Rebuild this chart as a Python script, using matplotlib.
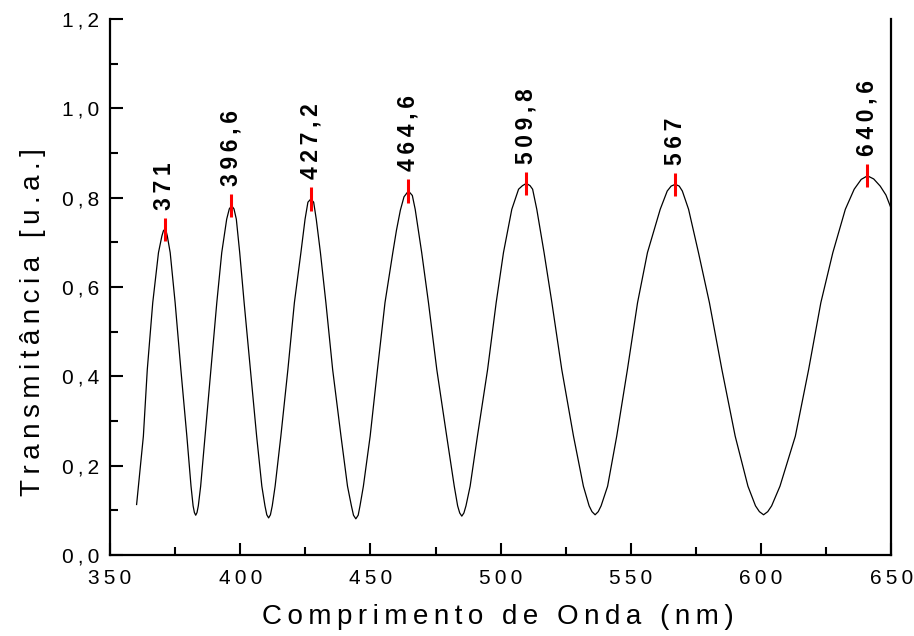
import matplotlib
matplotlib.use("Agg")
import matplotlib.pyplot as plt
from matplotlib.ticker import MultipleLocator, FuncFormatter

# ------------------------------------------------------------
# Data (wavelength in nm, transmittance in a.u.)
# ------------------------------------------------------------
wavelength = [
    360.2, 362.8, 364.3, 366.4, 368.6, 369.9, 370.5, 371.0, 371.5, 372.0,
    373.1, 375.0, 377.2, 379.5, 381.1, 381.9, 382.4, 382.9, 383.4, 383.9,
    384.8, 386.5, 388.8, 391.0, 392.9, 394.8, 395.8, 396.7, 397.6, 398.5,
    399.8, 401.5, 403.9, 406.3, 408.3, 409.5, 410.2, 410.9, 411.6, 412.3,
    413.4, 415.6, 418.3, 420.8, 423.3, 424.9, 426.0, 427.1, 428.2, 429.2,
    430.8, 432.9, 435.5, 438.7, 441.2, 442.7, 443.5, 444.4, 445.3, 446.0,
    447.3, 449.9, 452.7, 455.6, 458.6, 460.0, 461.5, 462.9, 464.6, 466.1,
    467.2, 469.7, 472.3, 475.5, 479.3, 482.2, 483.5, 484.3, 485.1, 485.9,
    486.7, 488.3, 491.1, 495.0, 498.3, 501.1, 504.3, 506.9, 508.4, 509.9,
    511.3, 512.3, 513.9, 516.7, 519.7, 523.5, 528.0, 531.8, 534.0, 535.1,
    536.3, 537.5, 538.6, 541.1, 544.6, 548.7, 552.6, 556.4, 561.3, 564.0,
    565.5, 567.1, 568.6, 569.8, 572.2, 576.0, 580.2, 585.0, 590.1, 595.0,
    597.9, 599.4, 601.0, 602.6, 604.1, 607.3, 613.2, 618.3, 623.0, 627.6,
    632.4, 635.8, 638.5, 640.9, 643.3, 645.8, 648.0, 650.0,
]
transmittance = [
    0.113, 0.266, 0.415, 0.565, 0.677, 0.714, 0.726, 0.729, 0.726, 0.714,
    0.677, 0.565, 0.415, 0.266, 0.154, 0.110, 0.095, 0.089, 0.095, 0.110,
    0.154, 0.266, 0.415, 0.565, 0.677, 0.752, 0.775, 0.782, 0.775, 0.752,
    0.677, 0.565, 0.415, 0.266, 0.154, 0.110, 0.090, 0.083, 0.090, 0.110,
    0.154, 0.266, 0.415, 0.565, 0.677, 0.752, 0.790, 0.797, 0.790, 0.752,
    0.677, 0.565, 0.415, 0.266, 0.154, 0.110, 0.089, 0.081, 0.089, 0.110,
    0.154, 0.266, 0.415, 0.565, 0.677, 0.727, 0.772, 0.802, 0.815, 0.805,
    0.774, 0.677, 0.565, 0.415, 0.266, 0.154, 0.110, 0.094, 0.087, 0.094,
    0.110, 0.154, 0.266, 0.415, 0.565, 0.677, 0.774, 0.819, 0.827, 0.832,
    0.827, 0.819, 0.774, 0.677, 0.565, 0.415, 0.266, 0.154, 0.110, 0.097,
    0.090, 0.097, 0.110, 0.154, 0.266, 0.415, 0.565, 0.677, 0.774, 0.815,
    0.826, 0.830, 0.826, 0.815, 0.774, 0.677, 0.565, 0.415, 0.266, 0.154,
    0.110, 0.097, 0.090, 0.097, 0.110, 0.154, 0.266, 0.415, 0.565, 0.677,
    0.774, 0.819, 0.841, 0.849, 0.842, 0.826, 0.806, 0.776,
]

# marked maxima
peak_nm = [371, 396.6, 427.2, 464.6, 509.8, 567, 640.6]
peak_t = [0.729, 0.782, 0.797, 0.815, 0.832, 0.830, 0.849]

THIN = "\u2009"


def spaced(s):
    # the original figure uses wide letter spacing
    return THIN.join(s)


def comma(v):
    s = f"{int(v)}" if float(v).is_integer() else f"{v:g}"
    return s.replace(".", ",")


plt.rcParams["font.family"] = ["Liberation Sans", "DejaVu Sans"]

fig = plt.figure(figsize=(9.14, 6.36), dpi=100)
ax = fig.add_axes([0.1204, 0.1274, 0.8546, 0.8426])

ax.plot(wavelength, transmittance, color="black", lw=0.9)

# red markers + rotated labels on the maxima
for x, y in zip(peak_nm, peak_t):
    ax.vlines(x, y - 0.026, y + 0.026, color="red", lw=2.2, zorder=3)
    ax.text(x, y + 0.044, spaced(comma(x)), rotation=90, ha="center",
            va="bottom", fontsize=16.5, fontweight="bold")

ax.set_xlim(350, 650)
ax.set_ylim(0, 1.2)

ax.xaxis.set_major_locator(MultipleLocator(50))
ax.xaxis.set_minor_locator(MultipleLocator(25))
ax.yaxis.set_major_locator(MultipleLocator(0.2))
ax.yaxis.set_minor_locator(MultipleLocator(0.1))
ax.xaxis.set_major_formatter(FuncFormatter(lambda v, p: spaced(f"{v:.0f}")))
ax.yaxis.set_major_formatter(
    FuncFormatter(lambda v, p: spaced(f"{v:.1f}".replace(".", ","))))

ax.tick_params(which="both", direction="in", width=1.5, labelsize=15,
               top=False, right=False)
ax.tick_params(which="major", length=9)
ax.tick_params(which="minor", length=5.5)
ax.tick_params(axis="x", pad=10)
ax.tick_params(axis="y", pad=8)

ax.spines["top"].set_visible(False)
for side in ("left", "bottom", "right"):
    ax.spines[side].set_linewidth(1.6)

ax.set_xlabel(spaced("Comprimento de Onda (nm)"), fontsize=20)
ax.set_ylabel(spaced("Transmitância [u.a.]"), fontsize=20)
ax.xaxis.set_label_coords(0.497, -0.091)
ax.yaxis.set_label_coords(-0.082, 0.435)

fig.savefig("out.png", dpi=100)
